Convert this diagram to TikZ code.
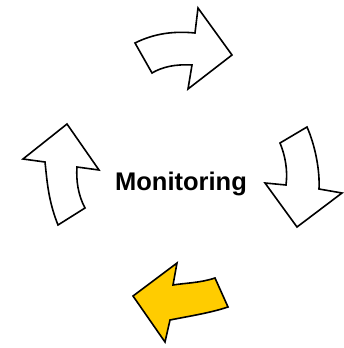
\documentclass[tikz,border=0pt]{standalone}
\usepackage{fontspec}
\setmainfont{Liberation Sans}
\usepackage{tikz}
\definecolor{cycleyellow}{RGB}{255,204,0}

\begin{document}
\begin{tikzpicture}[
    x=1pt, y=-1pt,
    cyclearrow/.style={
        draw,
        line width=1.6pt,
        line join=miter,
        fill=white,
    },
    activearrow/.style={
        cyclearrow,
        fill=cycleyellow
    },
    label/.style={
        anchor=base,
        font=\fontsize{25.5}{30}\selectfont\bfseries
    }
]
\useasboundingbox (0,0) rectangle (343,348);

% top arrow
\draw[cyclearrow] (135,43) .. controls (155,33) and (175,31) .. (195,33)
    -- (198,8) -- (232,55) -- (188,89) -- (192,65)
    .. controls (175,64) and (162,67) .. (152,73) -- cycle;

% right arrow
\draw[cyclearrow] (280,143) -- (307,127)
    .. controls (315,145) and (320,170) .. (319,189)
    -- (342,193) -- (297,227) -- (265,183) -- (286,185)
    .. controls (288,170) and (285,155) .. cycle;

% bottom arrow
\draw[activearrow] (215,278) -- (228,307)
    .. controls (210,313) and (190,316) .. (170,320)
    -- (165,342) -- (133,296) -- (177,263) -- (173,285)
    .. controls (185,283) and (200,283) .. cycle;

% left arrow
\draw[cyclearrow] (58,225) -- (85,208)
    .. controls (78,195) and (76,180) .. (77,167)
    -- (99,170) -- (67,124) -- (23,159) -- (45,162)
    .. controls (47,180) and (48,200) .. cycle;

\node[label] (monitoring) at (181,190) {Monitoring};
\end{tikzpicture}
\end{document}
